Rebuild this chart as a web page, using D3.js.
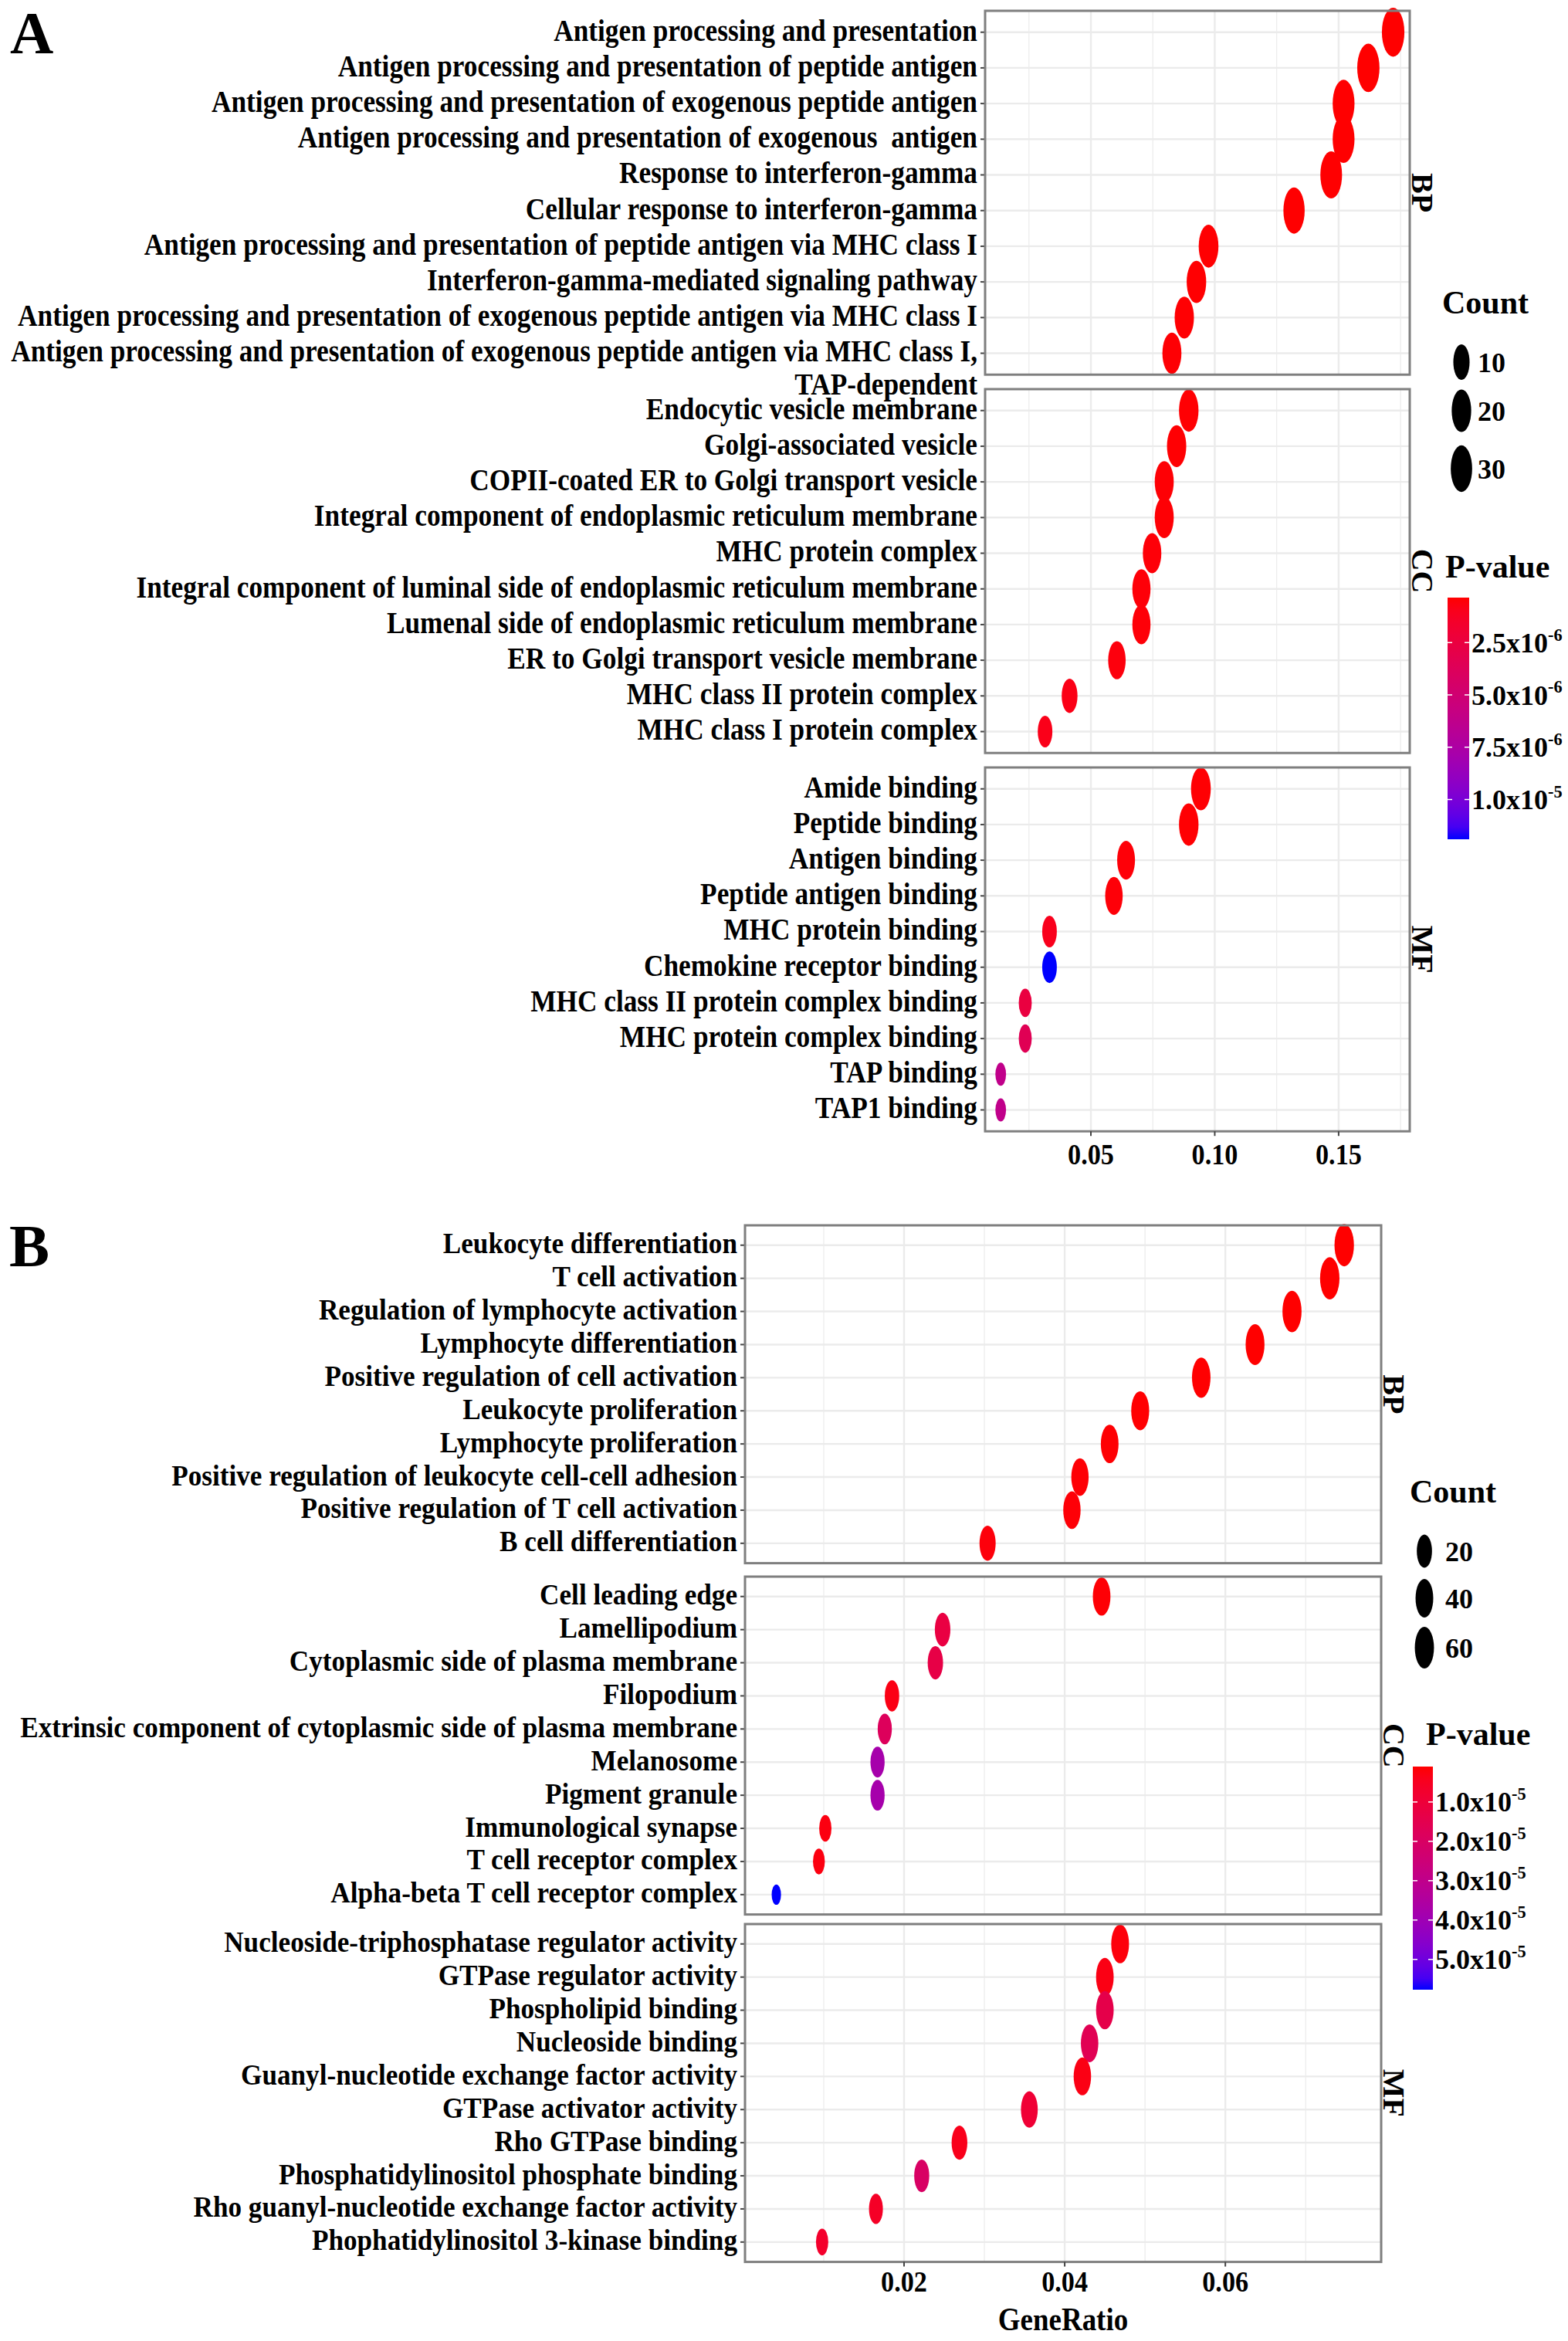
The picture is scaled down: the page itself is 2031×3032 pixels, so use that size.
<!DOCTYPE html>
<html>
<head>
<meta charset="utf-8">
<script src="https://cdn.jsdelivr.net/npm/d3@7"></script>
<style>
  body { margin: 0; background: #fff; }
  text { font-family: "Liberation Serif", "Times New Roman", serif; font-weight: bold; fill: #000; }
</style>
</head>
<body>
<svg id="chart" width="2031" height="3032"></svg>
<script>
// ---------- panel A data ----------
const A_BP_terms = [
  "Antigen processing and presentation",
  "Antigen processing and presentation of peptide antigen",
  "Antigen processing and presentation of exogenous peptide antigen",
  "Antigen processing and presentation of exogenous  antigen",
  "Response to interferon-gamma",
  "Cellular response to interferon-gamma",
  "Antigen processing and presentation of peptide antigen via MHC class I",
  "Interferon-gamma-mediated signaling pathway",
  "Antigen processing and presentation of exogenous peptide antigen via MHC class I",
  "Antigen processing and presentation of exogenous peptide antigen via MHC class I,\nTAP-dependent"
];
const A_BP_ratio = [0.172, 0.162, 0.152, 0.152, 0.147, 0.132, 0.0975, 0.0926, 0.0877, 0.0827];
const A_BP_count = [38, 36, 33, 33, 32, 29, 21, 20, 19, 18];
const A_BP_p = [3.5e-7, 3.5e-7, 3.6e-7, 3.6e-7, 3.6e-7, 3.7e-7, 3.8e-7, 3.9e-7, 4.0e-7, 4.2e-7];

const A_CC_terms = [
  "Endocytic vesicle membrane",
  "Golgi-associated vesicle",
  "COPII-coated ER to Golgi transport vesicle",
  "Integral component of endoplasmic reticulum membrane",
  "MHC protein complex",
  "Integral component of luminal side of endoplasmic reticulum membrane",
  "Lumenal side of endoplasmic reticulum membrane",
  "ER to Golgi transport vesicle membrane",
  "MHC class II protein complex",
  "MHC class I protein complex"
];
const A_CC_ratio = [0.0895, 0.0846, 0.0796, 0.0796, 0.0747, 0.0704, 0.0704, 0.0605, 0.0414, 0.0315];
const A_CC_count = [20, 19, 18, 18, 16, 15, 15, 13, 9, 7];
const A_CC_p = [4e-7, 4e-7, 4.5e-7, 4.5e-7, 5e-7, 5e-7, 5e-7, 6e-7, 8e-7, 9e-7];

const A_MF_terms = [
  "Amide binding",
  "Peptide binding",
  "Antigen binding",
  "Peptide antigen binding",
  "MHC protein binding",
  "Chemokine receptor binding",
  "MHC class II protein complex binding",
  "MHC protein complex binding",
  "TAP binding",
  "TAP1 binding"
];
const A_MF_ratio = [0.0944, 0.0895, 0.0642, 0.0593, 0.0333, 0.0333, 0.0235, 0.0235, 0.0136, 0.0136];
const A_MF_count = [21, 20, 14, 13, 7, 7, 5, 5, 3, 3];
const A_MF_p = [4e-7, 4e-7, 5e-7, 5e-7, 1.0e-6, 1.19e-5, 2.5e-6, 3.5e-6, 6.2e-6, 6.2e-6];

const A_xTicks = [0.05, 0.10, 0.15];
const A_countBreaks = [10, 20, 30];
const A_pBreaks = [2.5e-6, 5.0e-6, 7.5e-6, 1.0e-5];

// ---------- panel B data ----------
const B_BP_terms = [
  "Leukocyte differentiation",
  "T cell activation",
  "Regulation of lymphocyte activation",
  "Lymphocyte differentiation",
  "Positive regulation of cell activation",
  "Leukocyte proliferation",
  "Lymphocyte proliferation",
  "Positive regulation of leukocyte cell-cell adhesion",
  "Positive regulation of T cell activation",
  "B cell differentiation"
];
const B_BP_ratio = [0.0748, 0.0730, 0.0683, 0.0637, 0.0570, 0.0494, 0.0456, 0.0419, 0.0409, 0.0304];
const B_BP_count = [65, 64, 59, 55, 50, 43, 40, 36, 36, 26];
const B_BP_p = [1e-6, 1e-6, 1e-6, 1e-6, 1.1e-6, 1.2e-6, 1.3e-6, 1.5e-6, 1.6e-6, 2e-6];

const B_CC_terms = [
  "Cell leading edge",
  "Lamellipodium",
  "Cytoplasmic side of plasma membrane",
  "Filopodium",
  "Extrinsic component of cytoplasmic side of plasma membrane",
  "Melanosome",
  "Pigment granule",
  "Immunological synapse",
  "T cell receptor complex",
  "Alpha-beta T cell receptor complex"
];
const B_CC_ratio = [0.0446, 0.0248, 0.0239, 0.0185, 0.0176, 0.0167, 0.0167, 0.0102, 0.0094, 0.0041];
const B_CC_count = [39, 22, 21, 16, 15, 15, 15, 9, 8, 4];
const B_CC_p = [1.5e-6, 1.2e-5, 1.3e-5, 3e-6, 1.8e-5, 3.8e-5, 3.8e-5, 2.5e-6, 2.5e-6, 5.77e-5];

const B_MF_terms = [
  "Nucleoside-triphosphatase regulator activity",
  "GTPase regulator activity",
  "Phospholipid binding",
  "Nucleoside binding",
  "Guanyl-nucleotide exchange factor activity",
  "GTPase activator activity",
  "Rho GTPase binding",
  "Phosphatidylinositol phosphate binding",
  "Rho guanyl-nucleotide exchange factor activity",
  "Phophatidylinositol 3-kinase binding"
];
const B_MF_ratio = [0.0469, 0.0450, 0.0450, 0.0431, 0.0422, 0.0356, 0.0269, 0.0222, 0.0165, 0.0098];
const B_MF_count = [41, 39, 39, 37, 37, 31, 23, 19, 14, 9];
const B_MF_p = [2e-6, 3e-6, 1.4e-5, 1.6e-5, 3e-6, 9e-6, 4e-6, 2.0e-5, 6e-6, 7e-6];

const B_xTicks = [0.02, 0.04, 0.06];
const B_countBreaks = [20, 40, 60];
const B_pBreaks = [1e-5, 2e-5, 3e-5, 4e-5, 5e-5];

const ontologies = ["BP", "CC", "MF"];

// ---------- drawing ----------
const svg = d3.select("#chart");
const defs = svg.append("defs");
const GRID = "#ebebeb", BORDER = "#7f7f7f", TICK = "#444";
const ASPECT = 0.46;   // ellipse rx / ry (figure was squeezed horizontally)

function supLabel(sel, v, fs) {
  const parts = v.toExponential(1).split("e");
  sel.append("tspan").text(parts[0] + "x10");
  sel.append("tspan").attr("dy", -fs * 0.42).attr("font-size", fs * 0.62).text(parts[1].replace("+", ""));
}

function drawFigure(f) {
  const g = svg.append("g");
  const x = d3.scaleLinear().domain(f.xDomain).range([f.left, f.right]);
  const size = d3.scaleLog().domain(f.sizeDomain).range(f.sizeRange);
  const color = d3.scaleLinear().domain(f.pDomain).range(["#ff0000", "#0000ff"])
      .interpolate(d3.interpolateLab).clamp(true);
  const panelH = f.step * 10.2;
  const labels = [];

  g.append("text").attr("x", f.tagX).attr("y", f.tagY)
    .attr("font-size", 78).text(f.tag);

  f.groups.forEach((grp, gi) => {
    const top = f.tops[gi], bottom = top + panelH;
    const y = d3.scalePoint().domain(grp.terms).range([top, bottom]).padding(0.6);
    const pg = g.append("g");

    // minor vertical grid
    pg.selectAll("line.minor").data(f.minor).join("line")
      .attr("x1", d => x(d)).attr("x2", d => x(d)).attr("y1", top).attr("y2", bottom)
      .attr("stroke", GRID).attr("stroke-width", 1.2);
    // major vertical grid
    pg.selectAll("line.vmajor").data(f.ticks).join("line")
      .attr("x1", d => x(d)).attr("x2", d => x(d)).attr("y1", top).attr("y2", bottom)
      .attr("stroke", GRID).attr("stroke-width", 2.4);
    // horizontal grid (one per term)
    pg.selectAll("line.hmajor").data(grp.terms).join("line")
      .attr("x1", f.left).attr("x2", f.right).attr("y1", d => y(d)).attr("y2", d => y(d))
      .attr("stroke", GRID).attr("stroke-width", 2.4);

    // y ticks
    pg.selectAll("line.ytick").data(grp.terms).join("line")
      .attr("x1", f.left - 6).attr("x2", f.left).attr("y1", d => y(d)).attr("y2", d => y(d))
      .attr("stroke", TICK).attr("stroke-width", 2);

    // y labels (second line for wrapped terms)
    grp.terms.forEach(t => {
      t.split("\n").forEach((line, li) => {
        const tx = pg.append("text")
          .attr("text-anchor", "end").attr("dy", "0.27em")
          .attr("font-size", f.labelSize)
          .style("white-space", "pre")
          .text(line);
        labels.push({ node: tx, y: y(t) + li * f.step * 0.93 });
      });
    });

    // dots
    const rows = grp.terms.map((t, i) => ({ term: t, ratio: grp.ratio[i], count: grp.count[i], p: grp.p[i] }));
    pg.selectAll("ellipse").data(rows).join("ellipse")
      .attr("cx", d => x(d.ratio)).attr("cy", d => y(d.term))
      .attr("ry", d => size(d.count)).attr("rx", d => size(d.count) * ASPECT)
      .attr("fill", d => color(d.p));

    // panel border
    pg.append("rect").attr("x", f.left).attr("y", top)
      .attr("width", f.right - f.left).attr("height", panelH)
      .attr("fill", "none").attr("stroke", BORDER).attr("stroke-width", 3);

    // strip text
    pg.append("text")
      .attr("transform", `translate(${f.stripX},${(top + bottom) / 2}) rotate(90)`)
      .attr("text-anchor", "middle").attr("dy", "0.35em")
      .attr("font-size", 40).text(ontologies[gi]);

    // x axis on the last panel
    if (gi === f.groups.length - 1) {
      pg.selectAll("line.xtick").data(f.ticks).join("line")
        .attr("x1", d => x(d)).attr("x2", d => x(d)).attr("y1", bottom).attr("y2", bottom + 6)
        .attr("stroke", TICK).attr("stroke-width", 2);
      pg.selectAll("text.xlab").data(f.ticks).join("text")
        .attr("transform", d => `translate(${x(d)},${f.tickLabelY}) scale(0.9,1)`)
        .attr("text-anchor", "middle").attr("font-size", 38)
        .text(d => d3.format(".2f")(d));
    }
  });

  // squeeze labels horizontally to the measured width of the longest one
  const longest = d3.max(labels, l => l.node.node().getComputedTextLength());
  const sx = f.labelWidth / longest;
  labels.forEach(l => l.node.attr("transform", `translate(${f.labelRight},${l.y}) scale(${sx},1)`));

  if (f.xTitle) {
    g.append("text")
      .attr("transform", `translate(${(f.left + f.right) / 2},${f.xTitleY}) scale(0.88,1)`)
      .attr("text-anchor", "middle").attr("font-size", 42).text(f.xTitle);
  }

  // ---- legends ----
  const L = f.legend;
  g.append("text").attr("x", L.countX).attr("y", L.countY).attr("font-size", 42).text("Count");
  f.countBreaks.forEach((b, i) => {
    g.append("ellipse").attr("cx", L.keyX).attr("cy", L.keyY[i])
      .attr("ry", size(b)).attr("rx", size(b) * ASPECT).attr("fill", "#000");
    g.append("text").attr("x", L.keyLabelX).attr("y", L.keyY[i]).attr("dy", "0.35em")
      .attr("font-size", 36).text(b);
  });

  g.append("text").attr("x", L.pX).attr("y", L.pY).attr("font-size", 42).text("P-value");
  const yBar = d3.scaleLinear().domain(f.pDomain).range([L.barTop, L.barBottom]);
  const gid = "grad" + f.tag;
  const grad = defs.append("linearGradient").attr("id", gid)
    .attr("x1", 0).attr("y1", 0).attr("x2", 0).attr("y2", 1);
  d3.range(0, 1.0001, 0.05).forEach(t => {
    grad.append("stop").attr("offset", t)
      .attr("stop-color", color(f.pDomain[0] + t * (f.pDomain[1] - f.pDomain[0])));
  });
  g.append("rect").attr("x", L.barX).attr("y", L.barTop)
    .attr("width", L.barW).attr("height", L.barBottom - L.barTop)
    .attr("fill", `url(#${gid})`);
  f.pBreaks.forEach(v => {
    [L.barX, L.barX + L.barW - 6].forEach(x0 => {
      g.append("line").attr("x1", x0).attr("x2", x0 + 6)
        .attr("y1", yBar(v)).attr("y2", yBar(v))
        .attr("stroke", "#fff").attr("stroke-width", 1.5);
    });
    const t = g.append("text").attr("x", L.barX + L.barW + 3).attr("y", yBar(v))
      .attr("dy", "0.35em").attr("font-size", 36);
    supLabel(t, v, 36);
  });
}

drawFigure({
  tag: "A", tagX: 13, tagY: 69,
  left: 1276, right: 1826, xDomain: [0.0073, 0.1787],
  ticks: A_xTicks, minor: [0.025, 0.075, 0.125, 0.175],
  tops: [14, 504, 994], step: 46.2,
  labelSize: 40, labelRight: 1266, labelWidth: 1252,
  stripX: 1843, tickLabelY: 1508,
  sizeDomain: [3, 38], sizeRange: [15, 31.7],
  pDomain: [3.5e-7, 1.19e-5],
  countBreaks: A_countBreaks, pBreaks: A_pBreaks,
  groups: [
    { terms: A_BP_terms, ratio: A_BP_ratio, count: A_BP_count, p: A_BP_p },
    { terms: A_CC_terms, ratio: A_CC_ratio, count: A_CC_count, p: A_CC_p },
    { terms: A_MF_terms, ratio: A_MF_ratio, count: A_MF_count, p: A_MF_p }
  ],
  legend: {
    countX: 1868, countY: 406,
    keyX: 1893, keyY: [469, 532, 607], keyLabelX: 1914,
    pX: 1872, pY: 748,
    barX: 1875, barW: 28, barTop: 774, barBottom: 1087
  }
});

drawFigure({
  tag: "B", tagX: 12, tagY: 1640,
  left: 965, right: 1789, xDomain: [0.0002, 0.0794],
  ticks: B_xTicks, minor: [0.01, 0.03, 0.05, 0.07],
  tops: [1587, 2042, 2492], step: 42.9,
  labelSize: 39, labelRight: 955, labelWidth: 929,
  stripX: 1806, tickLabelY: 2968,
  xTitle: "GeneRatio", xTitleY: 3018,
  sizeDomain: [4, 65], sizeRange: [13.2, 27.4],
  pDomain: [1e-6, 5.77e-5],
  countBreaks: B_countBreaks, pBreaks: B_pBreaks,
  groups: [
    { terms: B_BP_terms, ratio: B_BP_ratio, count: B_BP_count, p: B_BP_p },
    { terms: B_CC_terms, ratio: B_CC_ratio, count: B_CC_count, p: B_CC_p },
    { terms: B_MF_terms, ratio: B_MF_ratio, count: B_MF_count, p: B_MF_p }
  ],
  legend: {
    countX: 1826, countY: 1946,
    keyX: 1845, keyY: [2009, 2070, 2134], keyLabelX: 1872,
    pX: 1847, pY: 2260,
    barX: 1830, barW: 26, barTop: 2288, barBottom: 2577
  }
});
</script>
</body>
</html>
